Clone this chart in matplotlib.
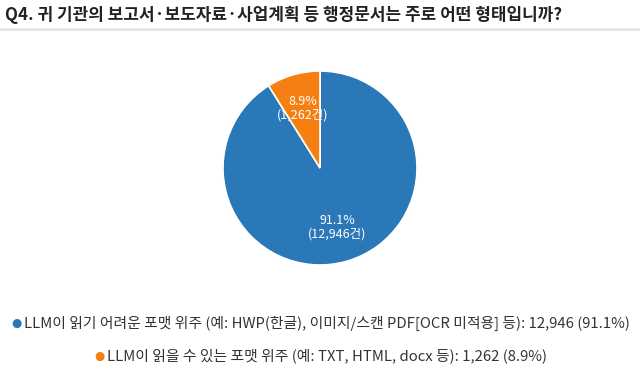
import numpy as np
import matplotlib.pyplot as plt
from matplotlib.lines import Line2D

plt.rcParams['font.family'] = ['Noto Sans CJK KR', 'DejaVu Sans']

title = 'Q4. 귀 기관의 보고서·보도자료·사업계획 등 행정문서는 주로 어떤 형태입니까?'
categories = ['LLM이 읽기 어려운 포맷 위주 (예: HWP(한글), 이미지/스캔 PDF[OCR 미적용] 등)',
              'LLM이 읽을 수 있는 포맷 위주 (예: TXT, HTML, docx 등)']
counts = [12946, 1262]
shares = [91.1, 8.9]
colors = ['#2a78b8', '#f57f10']

fig = plt.figure(figsize=(6.4, 3.75), dpi=100)
fig.patch.set_facecolor('white')

# title + grey rule
fig.text(5 / 640, 1 - 15 / 375, title, fontsize=12.2, fontweight='bold',
         color='#222222', ha='left', va='center')
fig.add_artist(Line2D([0, 1], [1 - 29 / 375, 1 - 29 / 375], color='#e3e3e3', lw=1.8))

# pie
ax = fig.add_axes([(320 - 97) / 640, (375 - 168 - 97) / 375, 194 / 640, 194 / 375])
wedges, texts = ax.pie(counts, colors=colors, startangle=90, counterclock=False,
                       wedgeprops=dict(edgecolor='white', linewidth=1.2),
                       labels=['%.1f%%\n(%s건)' % (s, format(c, ',')) for s, c in zip(shares, counts)],
                       labeldistance=0.64, radius=1.0)
for t in texts:
    t.set_color('white')
    t.set_fontsize(9)
    t.set_ha('center')
    t.set_va('center')
    t.set_linespacing(1.05)
ax.set_xlim(-1, 1)
ax.set_ylim(-1, 1)
ax.set_aspect('equal')

# legend lines
leg_y = [323, 356]
for i, (cat, c, s, col) in enumerate(zip(categories, counts, shares, colors)):
    txt = '%s: %s (%.1f%%)' % (cat, format(c, ','), s)
    t = fig.text(0.5 + 7 / 640, 1 - leg_y[i] / 375, txt, fontsize=10.7, color='#333333',
                 ha='center', va='center')
    fig.canvas.draw()
    bb = t.get_window_extent()
    fig.text((bb.x0 - 8) / 640, 1 - leg_y[i] / 375, '●', fontsize=8.5, color=col,
             ha='center', va='center', family=['DejaVu Sans'])

fig.savefig('out.png', dpi=100, facecolor='white')
